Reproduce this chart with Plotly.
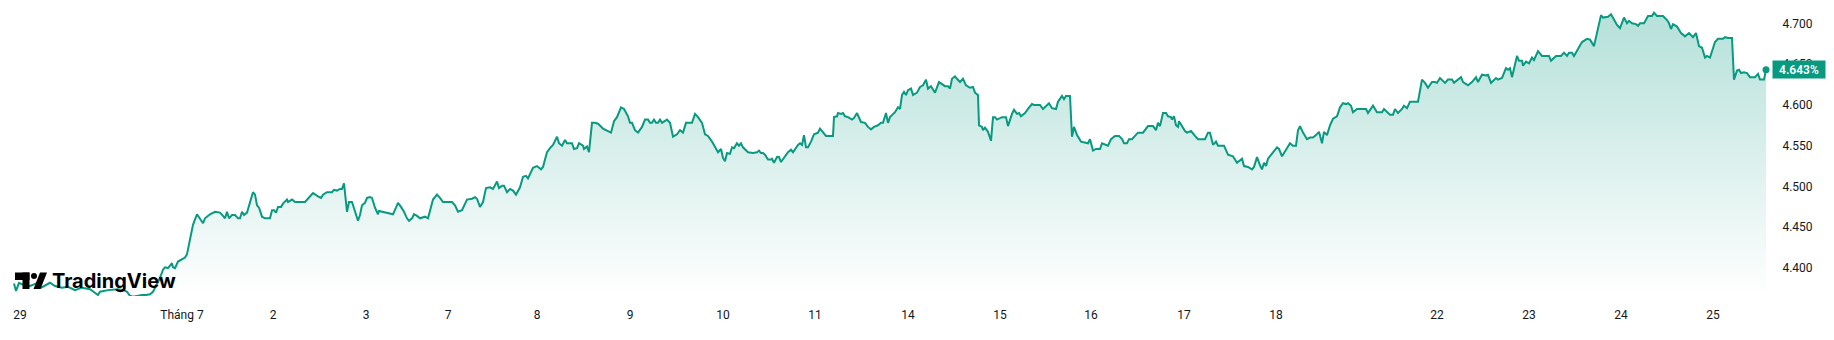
import plotly.graph_objects as go

# (bar index, yield %) pairs, one list per stretch of sessions
seg_jun28_jul1 = [(0,4.381),(2,4.372),(5,4.382),(10,4.379),(16,4.378),(22,4.381),(27,4.376),(31,4.379),(36,4.382),(41,4.378),(48,4.376),(54,4.377),(61,4.373),(68,4.376),(76,4.374),(84,4.367),(86,4.371),(94,4.373),(104,4.374),(110,4.373),(113,4.371),(116,4.366),(119,4.365),(124,4.366),(128,4.367),(132,4.367),(136,4.368),(139,4.371),(141,4.376),(146,4.388),(149,4.398),(151,4.401),(154,4.400),(158,4.406),(159,4.401),(161,4.400),(164,4.408),(168,4.411),(171,4.413),(173,4.417),(176,4.435),(179,4.453),(183,4.466),(186,4.460),(189,4.455),(191,4.461),(196,4.466),(201,4.469)]
seg_jul2_jul3 = [(206,4.468),(209,4.464),(211,4.461),(213,4.469),(215,4.461),(218,4.465),(221,4.465),(224,4.461),(226,4.461),(228,4.469),(230,4.465),(233,4.468),(236,4.480),(239,4.493),(241,4.490),(243,4.477),(245,4.474),(248,4.463),(251,4.461),(256,4.461),(258,4.471),(260,4.471),(262,4.468),(264,4.475),(267,4.475),(269,4.479),(273,4.484),(274,4.481),(278,4.484),(281,4.481),(291,4.481),(295,4.486),(299,4.492),(304,4.488),(307,4.486),(309,4.490),(313,4.493),(318,4.493),(320,4.496),(323,4.495),(326,4.497),(328,4.497),(330,4.504),(333,4.469),(335,4.481),(338,4.481),(339,4.477),(342,4.465),(344,4.458),(346,4.465),(348,4.477),(351,4.480),(353,4.486),(356,4.487),(358,4.486),(361,4.474),(364,4.466),(365,4.470),(368,4.469),(371,4.468),(379,4.466),(382,4.474),(384,4.480),(387,4.475),(390,4.469),(393,4.461),(395,4.458),(398,4.461),(400,4.466),(403,4.464),(406,4.461)]
seg_jul7_jul9 = [(411,4.463),(414,4.461),(419,4.484),(423,4.490),(426,4.486),(429,4.481),(438,4.481),(441,4.477),(444,4.469),(448,4.471),(453,4.484),(458,4.485),(461,4.487),(463,4.485),(466,4.475),(469,4.481),(472,4.498),(476,4.499),(479,4.497),(483,4.506),(485,4.498),(488,4.501),(490,4.501),(493,4.493),(496,4.497),(499,4.495),(502,4.490),(506,4.499),(509,4.512),(512,4.513),(514,4.510),(519,4.523),(523,4.525),(527,4.521),(529,4.524),(533,4.542),(536,4.547),(539,4.551),(543,4.561),(545,4.553),(548,4.550),(551,4.557),(553,4.553),(558,4.553),(560,4.546),(563,4.547),(565,4.553),(569,4.550),(570,4.546),(573,4.549),(575,4.542),(578,4.578),(581,4.578),(584,4.577),(589,4.571),(594,4.568),(597,4.566),(600,4.580),(603,4.585),(607,4.597),(610,4.595)]
seg_jul9_jul11 = [(614,4.586),(616,4.578),(618,4.578),(621,4.569),(624,4.566),(628,4.573),(631,4.582),(634,4.582),(636,4.578),(638,4.578),(640,4.582),(642,4.578),(644,4.578),(646,4.582),(648,4.578),(653,4.582),(656,4.578),(659,4.561),(663,4.564),(666,4.569),(669,4.566),(672,4.578),(678,4.578),(681,4.589),(684,4.585),(688,4.578),(691,4.564),(694,4.562),(698,4.555),(701,4.548),(704,4.542),(707,4.546),(709,4.535),(711,4.531),(713,4.541),(716,4.540),(718,4.548),(720,4.547),(723,4.553),(725,4.550),(727,4.553),(729,4.548),(734,4.542),(739,4.541),(743,4.542),(745,4.544),(747,4.541),(749,4.541),(751,4.539),(754,4.533),(757,4.533),(758,4.534),(760,4.529),(763,4.536),(765,4.536),(767,4.530),(771,4.537),(774,4.542),(777,4.545),(779,4.542),(784,4.551),(786,4.553),(788,4.551),(790,4.563),(792,4.548),(794,4.548),(797,4.555),(800,4.564),(804,4.566),(806,4.571),(808,4.568),(812,4.562)]
seg_jul11_jul15 = [(819,4.562),(820,4.585),(823,4.586),(824,4.590),(827,4.589),(829,4.590),(831,4.586),(834,4.585),(838,4.582),(840,4.584),(843,4.590),(847,4.579),(851,4.578),(854,4.573),(857,4.570),(860,4.573),(864,4.575),(867,4.578),(869,4.578),(872,4.590),(874,4.578),(876,4.585),(881,4.591),(884,4.597),(886,4.595),(888,4.612),(890,4.616),(892,4.612),(894,4.618),(897,4.620),(899,4.612),(903,4.615),(906,4.622),(909,4.624),(912,4.631),(914,4.620),(917,4.623),(921,4.615),(925,4.628),(929,4.624),(931,4.623),(934,4.623),(936,4.620),(938,4.632),(941,4.635),(943,4.632),(946,4.628),(949,4.632),(952,4.624),(956,4.621),(959,4.622),(961,4.615),(964,4.612),(965,4.575),(968,4.573),(969,4.569),(971,4.572),(974,4.567),(977,4.556),(979,4.585),(981,4.585),(983,4.582),(988,4.585),(992,4.585),(994,4.574),(998,4.589),(1000,4.594),(1003,4.589),(1005,4.590),(1007,4.586),(1011,4.590),(1014,4.595),(1018,4.601),(1020,4.600)]
seg_jul15_jul17 = [(1026,4.600),(1029,4.595),(1033,4.600),(1035,4.602),(1038,4.596),(1042,4.595),(1044,4.604),(1048,4.611),(1050,4.607),(1052,4.611),(1056,4.611),(1058,4.561),(1060,4.573),(1063,4.563),(1067,4.555),(1074,4.553),(1076,4.558),(1079,4.544),(1082,4.546),(1086,4.546),(1088,4.553),(1091,4.551),(1094,4.550),(1097,4.558),(1101,4.562),(1105,4.562),(1108,4.558),(1110,4.553),(1113,4.553),(1115,4.558),(1118,4.558),(1121,4.562),(1124,4.566),(1129,4.566),(1134,4.574),(1139,4.574),(1142,4.569),(1144,4.578),(1146,4.574),(1149,4.590),(1152,4.590),(1154,4.586),(1157,4.585),(1158,4.582),(1160,4.586),(1162,4.575),(1164,4.573),(1165,4.580),(1168,4.574),(1171,4.568),(1173,4.566),(1177,4.568),(1181,4.562),(1184,4.558),(1191,4.558),(1194,4.566),(1196,4.566),(1199,4.551),(1202,4.555),(1204,4.550),(1210,4.550),(1214,4.539),(1219,4.537)]
seg_jul17_jul22 = [(1223,4.529),(1228,4.534),(1230,4.525),(1234,4.524),(1238,4.521),(1240,4.524),(1243,4.536),(1246,4.526),(1248,4.521),(1250,4.529),(1252,4.525),(1254,4.534),(1259,4.542),(1263,4.548),(1265,4.546),(1268,4.537),(1272,4.545),(1276,4.553),(1279,4.550),(1282,4.550),(1284,4.569),(1286,4.574),(1289,4.566),(1293,4.558),(1296,4.560),(1299,4.560),(1302,4.563),(1305,4.567),(1308,4.553),(1310,4.567),(1313,4.563),(1316,4.575),(1319,4.583),(1323,4.586),(1326,4.597),(1329,4.602),(1332,4.601),(1334,4.602),(1337,4.599),(1339,4.591),(1343,4.595),(1352,4.595),(1354,4.590),(1359,4.599),(1363,4.591),(1368,4.591),(1370,4.595),(1373,4.591),(1376,4.588),(1379,4.588),(1381,4.595),(1384,4.590),(1388,4.595),(1390,4.599),(1393,4.596),(1396,4.604),(1404,4.604),(1408,4.631),(1411,4.627),(1414,4.621),(1418,4.628),(1421,4.628),(1423,4.627),(1426,4.633)]
seg_jul22_jul24 = [(1431,4.627),(1434,4.631),(1438,4.631),(1440,4.627),(1444,4.631),(1447,4.634),(1449,4.628),(1454,4.624),(1458,4.628),(1462,4.634),(1464,4.628),(1468,4.637),(1472,4.636),(1474,4.637),(1477,4.627),(1482,4.633),(1484,4.631),(1488,4.633),(1492,4.645),(1494,4.643),(1496,4.645),(1498,4.634),(1503,4.660),(1505,4.654),(1508,4.654),(1509,4.648),(1512,4.653),(1515,4.651),(1518,4.658),(1520,4.655),(1524,4.666),(1528,4.660),(1535,4.660),(1537,4.654),(1542,4.660),(1547,4.660),(1550,4.664),(1553,4.660),(1555,4.664),(1558,4.664),(1560,4.660),(1565,4.671),(1568,4.677),(1573,4.681),(1576,4.680),(1580,4.672),(1584,4.692),(1587,4.710),(1589,4.707),(1592,4.708),(1594,4.708),(1597,4.711),(1600,4.705),(1603,4.698),(1606,4.694),(1610,4.707),(1613,4.700),(1615,4.703),(1618,4.700),(1622,4.699),(1624,4.697),(1626,4.700),(1630,4.700),(1634,4.709),(1638,4.709),(1640,4.713),(1643,4.709),(1649,4.709),(1653,4.704),(1655,4.700),(1657,4.693),(1659,4.699)]
seg_jul25 = [(1663,4.696),(1667,4.688),(1671,4.684),(1675,4.688),(1679,4.683),(1682,4.688),(1685,4.672),(1688,4.670),(1691,4.658),(1693,4.660),(1696,4.658),(1698,4.665),(1701,4.677),(1704,4.681),(1709,4.681),(1711,4.683),(1714,4.682),(1718,4.682),(1720,4.631),(1723,4.642),(1725,4.643),(1727,4.639),(1730,4.640),(1733,4.639),(1736,4.634),(1741,4.634),(1744,4.638),(1746,4.631),(1750,4.631),(1752,4.643)]

tick_bars = [6, 168, 259, 352, 434, 523, 616, 709, 801, 894, 986, 1077, 1170, 1262, 1423, 1515, 1607, 1699]
tick_labels = ["29", "Tháng 7", "2", "3", "7", "8", "9", "10", "11", "14", "15", "16", "17", "18", "22", "23", "24", "25"]
y_ticks = [4.40, 4.45, 4.50, 4.55, 4.60, 4.65, 4.70]
last_value = 4.643

segments = [seg_jun28_jul1, seg_jul2_jul3, seg_jul7_jul9, seg_jul9_jul11, seg_jul11_jul15,
            seg_jul15_jul17, seg_jul17_jul22, seg_jul22_jul24, seg_jul25]
xs, ys = [], []
for seg in segments:
    for b, v in seg:
        xs.append(b)
        ys.append(v)

GREEN = "#089981"
W, H = 1834, 340
PLOT_R = 1771
PLOT_B = 296
X_RANGE = [-14, PLOT_R - 14]
Y_RANGE = [4.3658, 4.72855]

fig = go.Figure()
fig.add_trace(go.Scatter(
    x=xs, y=ys, mode="lines",
    line=dict(color=GREEN, width=2),
    fill="tozeroy",
    fillgradient=dict(type="vertical",
                      colorscale=[[0, "rgba(8,153,129,0.0)"], [1, "rgba(8,153,129,0.30)"]],
                      start=Y_RANGE[0], stop=max(ys)),
    hoverinfo="skip", showlegend=False,
))
fig.add_trace(go.Scatter(
    x=[xs[-1]], y=[ys[-1]], mode="markers",
    marker=dict(color=GREEN, size=7),
    hoverinfo="skip", showlegend=False,
))

font = dict(family="Roboto, Arial, sans-serif", size=12, color="#131722")

fig.update_layout(
    width=W, height=H,
    margin=dict(l=0, r=W - PLOT_R, t=0, b=H - PLOT_B),
    paper_bgcolor="white", plot_bgcolor="white",
    font=font,
    xaxis=dict(range=X_RANGE, tickvals=tick_bars, ticktext=tick_labels,
               showgrid=False, zeroline=False, showline=False,
               ticks="outside", ticklen=8, tickcolor="rgba(0,0,0,0)",
               tickfont=font, fixedrange=True),
    yaxis=dict(range=Y_RANGE, side="right", tickvals=y_ticks,
               tickformat=".3f", ticksuffix="%",
               showgrid=False, zeroline=False, showline=False,
               ticks="outside", ticklen=8, tickcolor="rgba(0,0,0,0)",
               tickfont=font, fixedrange=True),
)

# last value label on the price scale
fig.add_annotation(
    xref="paper", yref="y", x=1, y=last_value, xanchor="left", yanchor="middle",
    xshift=1, text=f"{last_value:.3f}%", showarrow=False,
    font=dict(family="Roboto, Arial, sans-serif", size=12, color="white", weight=600),
    bgcolor=GREEN, width=50, height=15, borderpad=1, align="center",
)

# TradingView watermark (decoration)
def px(xp):
    return xp / PLOT_R

def py(yp):
    return 1 - yp / PLOT_B

fig.add_annotation(
    xref="paper", yref="paper", x=px(50), y=py(281), xanchor="left", yanchor="middle",
    text="TradingView", showarrow=False,
    font=dict(family="Inter, Roboto, sans-serif", size=20, color="#000000", weight=700),
)
logo = "black"
fig.add_shape(type="rect", xref="paper", yref="paper", x0=px(15), x1=px(29.5), y0=py(280), y1=py(272.5),
              fillcolor=logo, line_width=0, layer="above")
fig.add_shape(type="rect", xref="paper", yref="paper", x0=px(22.5), x1=px(29.5), y0=py(289), y1=py(272.5),
              fillcolor=logo, line_width=0, layer="above")
fig.add_shape(type="circle", xref="paper", yref="paper", x0=px(31), x1=px(37), y0=py(279), y1=py(273),
              fillcolor=logo, line_width=0, layer="above")
fig.add_shape(type="path", xref="paper", yref="paper",
              path=f"M {px(33.5)} {py(289)} L {px(40.5)} {py(289)} L {px(47)} {py(272.5)} L {px(40)} {py(272.5)} Z",
              fillcolor=logo, line_width=0, layer="above")

fig.write_html("out.html", config={"displayModeBar": False})
